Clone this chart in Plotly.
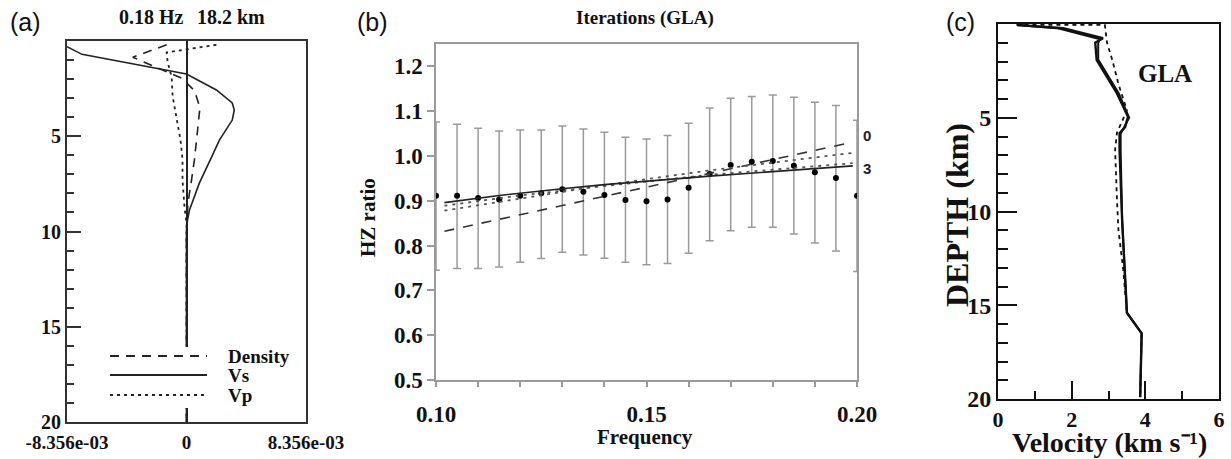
import numpy as np
import plotly.graph_objects as go

W, H = 1231, 459
SERIF = "Liberation Serif"

# ---------------- Panel (a): sensitivity kernels (units of 1e-3) ----------------
vs_depth = [0.3, 0.7, 1.73, 2.57, 3.25, 3.62, 4.15, 5.2, 6.0, 7.45, 8.87, 9.4, 10.0, 20.0]
vs_val = [-8.356, -7.31, 0.0, 2.09, 3.20, 3.34, 3.20, 2.30, 1.81, 0.905, 0.21, 0.07, 0.0, 0.0]

dens_depth = [0.2, 0.85, 1.95, 2.6, 3.5, 4.5, 5.5, 6.2, 7.3, 8.5, 10.0, 20.0]
dens_val = [-1.39, -3.76, -0.35, 0.56, 0.94, 0.80, 0.70, 0.56, 0.35, 0.10, 0.0, 0.0]

vp_depth = [0.2, 0.6, 1.1, 1.9, 2.9, 4.0, 5.2, 6.2, 7.3, 8.7, 9.6, 20.0]
vp_val = [2.09, -1.39, -1.32, -1.04, -0.97, -0.70, -0.42, -0.28, -0.28, -0.14, 0.0, 0.0]

kernel_max = 8.356e-3
a_xticks = ["-8.356e-03", "0", "8.356e-03"]

# ---------------- Panel (b): H/Z ratio vs frequency ----------------
freq = [0.100, 0.105, 0.110, 0.115, 0.120, 0.125, 0.130, 0.135, 0.140, 0.145, 0.150,
        0.155, 0.160, 0.165, 0.170, 0.175, 0.180, 0.185, 0.190, 0.195, 0.200]
hz_obs = [0.911, 0.911, 0.906, 0.903, 0.911, 0.917, 0.926, 0.920, 0.913, 0.902, 0.899,
          0.903, 0.929, 0.960, 0.980, 0.987, 0.989, 0.978, 0.964, 0.951, 0.911]
hz_upper = [1.076, 1.071, 1.062, 1.056, 1.058, 1.058, 1.067, 1.060, 1.053, 1.042, 1.038,
            1.046, 1.073, 1.107, 1.129, 1.133, 1.136, 1.131, 1.120, 1.113, 1.080]
hz_lower = [0.745, 0.749, 0.749, 0.752, 0.763, 0.771, 0.785, 0.779, 0.772, 0.763, 0.757,
            0.760, 0.783, 0.811, 0.833, 0.841, 0.841, 0.826, 0.806, 0.788, 0.742]

it0_f = [0.102, 0.199]
it0_hz = [0.832, 1.031]
it1_f = [0.102, 0.120, 0.140, 0.165, 0.199]
it1_hz = [0.878, 0.905, 0.935, 0.968, 1.007]
it2_f = [0.102, 0.120, 0.140, 0.165, 0.199]
it2_hz = [0.889, 0.912, 0.933, 0.958, 0.984]
it3_f = [0.102, 0.115, 0.130, 0.140, 0.165, 0.199]
it3_hz = [0.896, 0.912, 0.927, 0.936, 0.955, 0.978]

# ---------------- Panel (c): velocity profiles ----------------
velA = [0.52, 1.77, 2.85, 2.64, 2.68, 2.95, 3.23, 3.53, 3.45, 3.30, 3.30, 3.37, 3.50, 3.90, 3.86]
depA = [0.05, 0.23, 0.76, 1.0, 1.92, 2.8, 3.7, 4.95, 5.5, 5.83, 6.7, 10.45, 15.4, 16.5, 19.9]
velB = [0.52, 1.6, 2.75, 2.72, 2.72, 3.0, 3.28, 3.56, 3.42, 3.33, 3.33, 3.37, 3.50, 3.90, 3.86]
depB = [0.05, 0.22, 0.8, 1.05, 1.9, 2.8, 3.7, 5.0, 5.5, 5.85, 6.7, 10.45, 15.4, 16.5, 19.9]
velInit = [0.5, 2.9, 2.96, 3.1, 3.27, 3.5, 3.23, 3.18, 3.23, 3.27, 3.4, 3.5, 3.9, 3.86]
depInit = [0.05, 0.05, 1.0, 1.9, 3.2, 4.6, 5.8, 6.7, 9.4, 11.0, 13.1, 15.4, 16.5, 19.9]


def px(x):
    return x / W


def py(y):
    return 1 - y / H


fig = go.Figure()

# (a)
s = 1e-3
fig.add_trace(go.Scatter(x=np.array(dens_val) * s, y=dens_depth, mode="lines",
                         line=dict(color="#222", width=1.6, dash="9px,7px"),
                         xaxis="x", yaxis="y", showlegend=False))
fig.add_trace(go.Scatter(x=np.array(vs_val) * s, y=vs_depth, mode="lines",
                         line=dict(color="#222", width=1.6),
                         xaxis="x", yaxis="y", showlegend=False))
fig.add_trace(go.Scatter(x=np.array(vp_val) * s, y=vp_depth, mode="lines",
                         line=dict(color="#222", width=1.8, dash="3px,4px"),
                         xaxis="x", yaxis="y", showlegend=False))

# (b)
ho = np.array(hz_obs)
fig.add_trace(go.Scatter(x=freq, y=hz_obs, mode="markers",
                         marker=dict(color="black", size=6),
                         error_y=dict(type="data", symmetric=False,
                                      array=np.array(hz_upper) - ho,
                                      arrayminus=ho - np.array(hz_lower),
                                      color="#9a9a9a", thickness=1.5, width=4),
                         xaxis="x2", yaxis="y2", showlegend=False))
fig.add_trace(go.Scatter(x=it0_f, y=it0_hz, mode="lines",
                         line=dict(color="#333", width=1.6, dash="10px,9px"),
                         xaxis="x2", yaxis="y2", showlegend=False))
fig.add_trace(go.Scatter(x=it1_f, y=it1_hz, mode="lines",
                         line=dict(color="#555", width=1.8, dash="3px,5px"),
                         xaxis="x2", yaxis="y2", showlegend=False))
fig.add_trace(go.Scatter(x=it2_f, y=it2_hz, mode="lines",
                         line=dict(color="#555", width=1.8, dash="3px,5px"),
                         xaxis="x2", yaxis="y2", showlegend=False))
fig.add_trace(go.Scatter(x=it3_f, y=it3_hz, mode="lines",
                         line=dict(color="#222", width=1.6),
                         xaxis="x2", yaxis="y2", showlegend=False))

# (c)
fig.add_trace(go.Scatter(x=velInit, y=depInit, mode="lines",
                         line=dict(color="#111", width=1.8, dash="4px,4px"),
                         xaxis="x3", yaxis="y3", showlegend=False))
fig.add_trace(go.Scatter(x=velA, y=depA, mode="lines",
                         line=dict(color="#111", width=2.4),
                         xaxis="x3", yaxis="y3", showlegend=False))
fig.add_trace(go.Scatter(x=velB, y=depB, mode="lines",
                         line=dict(color="#111", width=2.0),
                         xaxis="x3", yaxis="y3", showlegend=False))


def bold(size, color="#111", family=SERIF):
    return dict(family=family, size=size, color=color, weight="bold")


layout = dict(
    template="none",
    width=W, height=H, margin=dict(l=0, r=0, t=0, b=0, pad=0, autoexpand=False),
    paper_bgcolor="white", plot_bgcolor="white", showlegend=False,
    # (a)
    xaxis=dict(domain=[px(67), px(306)], anchor="y", range=[-kernel_max, kernel_max],
               automargin=False, showgrid=False, zeroline=True, zerolinecolor="#222",
               zerolinewidth=2, showline=True, linecolor="#333", linewidth=2, mirror=True,
               tickmode="array", tickvals=[-kernel_max, 0, kernel_max], ticktext=a_xticks,
               ticks="", tickfont=bold(19), ticklabelstandoff=2),
    yaxis=dict(domain=[py(422), py(41)], anchor="x", range=[20, 0], automargin=False,
               showgrid=False, zeroline=False, showline=True, linecolor="#333",
               linewidth=2, mirror=True, tickmode="array", tickvals=[5, 10, 15, 20],
               ticktext=["5", "10", "15", "20"],
               ticks="inside", ticklen=14, tickwidth=2, tickcolor="#333",
               minor=dict(tickmode="linear", tick0=0, dtick=1, ticks="inside",
                          ticklen=7, tickwidth=2, tickcolor="#333"),
               tickfont=bold(20)),
    # (b)
    xaxis2=dict(domain=[px(436), px(857)], anchor="y2", range=[0.10, 0.20],
                automargin=False, showgrid=False, zeroline=False, showline=True,
                linecolor="#9a9a9a", linewidth=1.5, mirror=True, tickmode="array",
                tickvals=[0.10, 0.15, 0.20], ticktext=["0.10", "0.15", "0.20"],
                ticks="outside", ticklen=5, tickcolor="#9a9a9a", tickwidth=1.5,
                ticklabelstandoff=8,
                minor=dict(tickmode="linear", tick0=0.10, dtick=0.01, ticks="outside",
                           ticklen=5, tickcolor="#9a9a9a", tickwidth=1.5),
                tickfont=bold(23)),
    yaxis2=dict(domain=[py(380), py(44)], anchor="x2", range=[0.5, 1.25],
                automargin=False, showgrid=False, zeroline=False, showline=True,
                linecolor="#9a9a9a", linewidth=1.5, mirror=True, tickmode="array",
                tickvals=[0.5, 0.6, 0.7, 0.8, 0.9, 1.0, 1.1, 1.2],
                ticktext=["0.5", "0.6", "0.7", "0.8", "0.9", "1.0", "1.1", "1.2"],
                ticks="outside", ticklen=7, tickcolor="#9a9a9a", tickwidth=1.5,
                tickfont=bold(23)),
    # (c)
    xaxis3=dict(domain=[px(998), px(1219)], anchor="y3", range=[0, 6], automargin=False,
                showgrid=False, zeroline=False, showline=True, linecolor="#111",
                linewidth=2, mirror=True, tickmode="array", tickvals=[0, 2, 4, 6],
                ticktext=["0", "2", "4", "6"],
                ticks="inside", ticklen=18, tickwidth=2, tickcolor="#111",
                minor=dict(tickmode="linear", tick0=0, dtick=1, ticks="inside",
                           ticklen=8, tickwidth=2, tickcolor="#111"),
                tickfont=bold(22), ticklabelstandoff=0),
    yaxis3=dict(domain=[py(399), py(24)], anchor="x3", range=[20, 0], automargin=False,
                showgrid=False, zeroline=False, showline=True, linecolor="#111",
                linewidth=2, mirror=True, tickmode="array", tickvals=[5, 10, 15, 20],
                ticktext=["5", "10", "15", "20"],
                ticks="inside", ticklen=19, tickwidth=2, tickcolor="#111",
                minor=dict(tickmode="linear", tick0=0, dtick=1, ticks="inside",
                           ticklen=10, tickwidth=2, tickcolor="#111"),
                tickfont=bold(24)),
)
fig.update_layout(**layout)

# legend of panel (a), drawn by hand with long line samples
shapes = [dict(type="rect", xref="paper", yref="paper", x0=px(103), x1=px(296),
               y0=py(408), y1=py(347), fillcolor="white", line=dict(width=0), layer="above")]
leg = [("Density", "9px,7px", 356), ("Vs", "solid", 375), ("Vp", "3px,4px", 395)]
annotations = []
for name, dash, yy in leg:
    shapes.append(dict(type="line", xref="paper", yref="paper", x0=px(110), x1=px(207),
                       y0=py(yy), y1=py(yy), line=dict(color="#222", width=1.8, dash=dash),
                       layer="above"))
    annotations.append(dict(text=name, xref="paper", yref="paper", x=px(226), y=py(yy),
                            xanchor="left", yanchor="middle", showarrow=False,
                            font=bold(19)))


def ann(text, x, y, font, angle=0, xanchor="center"):
    annotations.append(dict(text=text, xref="paper", yref="paper", x=px(x), y=py(y),
                            xanchor=xanchor, yanchor="middle", showarrow=False,
                            font=font, textangle=angle))


label_font = dict(family="Liberation Sans", size=25, color="#111")
ann("(a)", 25, 22, label_font)
ann("(b)", 372, 22, label_font)
ann("(c)", 960, 22, label_font)
ann("0.18 Hz", 151, 17, bold(20))
ann("18.2 km", 231, 17, bold(20))
ann("Iterations (GLA)", 645, 18, bold(19))
ann("HZ ratio", 368, 218, bold(21), angle=-90)
ann("Frequency", 645, 437, bold(21))
ann("0", 861, 135, bold(15, "#222", "Liberation Sans"), xanchor="left")
ann("3", 861, 169, bold(15, "#222", "Liberation Sans"), xanchor="left")
ann("GLA", 1165, 73, bold(25))
ann("DEPTH (km)", 957, 215, bold(32), angle=-90)
ann("Velocity (km s\u207b\u00b9)", 1109, 442, bold(28))

fig.update_layout(shapes=shapes, annotations=annotations)
fig.write_html("out.html")
